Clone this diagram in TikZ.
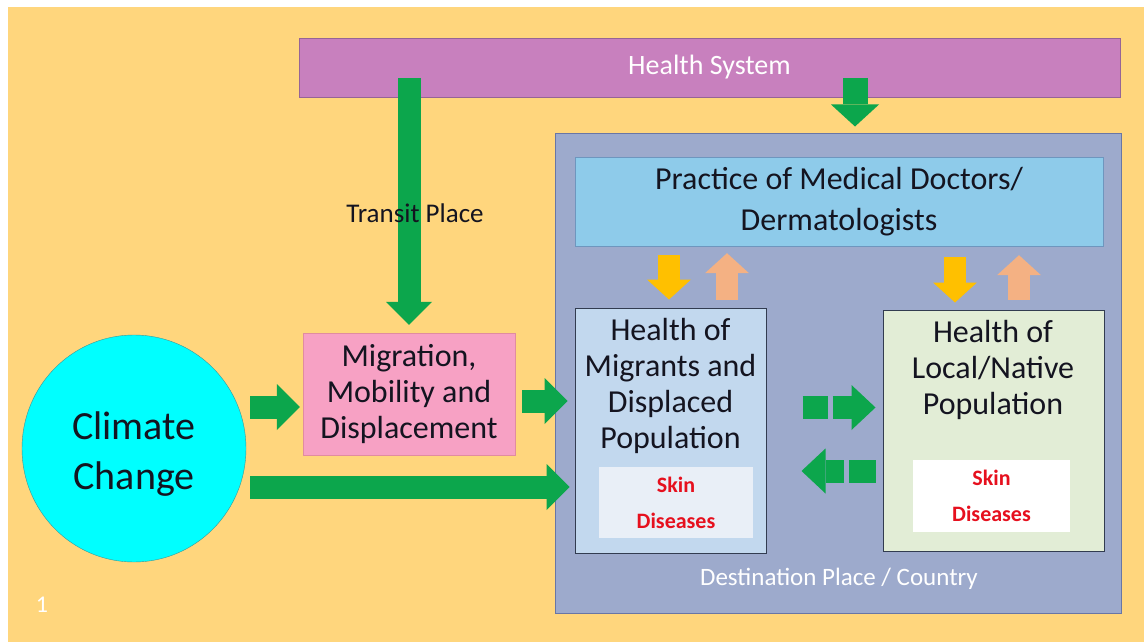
\documentclass[tikz,border=0pt]{standalone}
\usepackage{fontspec}
\setmainfont{Carlito}
\usetikzlibrary{arrows.meta,shapes.geometric}
\definecolor{bgyellow}{RGB}{255,214,125}
\definecolor{hsysfill}{RGB}{200,128,190}
\definecolor{hsysline}{RGB}{150,100,150}
\definecolor{destfill}{RGB}{157,170,204}
\definecolor{destline}{RGB}{105,118,165}
\definecolor{practfill}{RGB}{142,203,234}
\definecolor{practline}{RGB}{110,150,190}
\definecolor{migfill}{RGB}{194,216,238}
\definecolor{locfill}{RGB}{226,237,214}
\definecolor{boxline}{RGB}{50,60,80}
\definecolor{skinpale}{RGB}{233,239,247}
\definecolor{pinkfill}{RGB}{247,161,196}
\definecolor{pinkline}{RGB}{225,140,160}
\definecolor{cyanfill}{RGB}{0,255,255}
\definecolor{cyanline}{RGB}{60,150,150}
\definecolor{arrowgreen}{RGB}{12,166,76}
\definecolor{arrowyellow}{RGB}{255,192,0}
\definecolor{arrowsalmon}{RGB}{244,177,131}
\definecolor{skinred}{RGB}{230,16,30}
\definecolor{ink}{RGB}{20,20,32}
\newcommand{\fs}[2]{\fontsize{#1}{#2}\selectfont}
\begin{document}
\begin{tikzpicture}
  [x=1pt,y=-1pt,
   box/.style={draw,rectangle,inner sep=0pt},
   bodytext/.style={align=center,text=ink,font=\fs{32}{36}},
   skinbox/.style={rectangle,inner sep=0pt,align=center,text=skinred,font=\bfseries\fs{22}{36}},
   greenarrow/.style={draw=arrowgreen,line width=23pt,-{Triangle[length=23pt,width=46pt,line width=0pt]}},
   downarrow/.style={draw=arrowyellow,line width=22pt,-{Triangle[length=20pt,width=44pt,line width=0pt]}},
   uparrow/.style={draw=arrowsalmon,line width=22pt,-{Triangle[length=20pt,width=44pt,line width=0pt]}},
   swaparrow/.style={greenarrow,line width=23pt,-{Triangle[length=24pt,width=45pt,line width=0pt]}}]
  \useasboundingbox (0,0) rectangle (1144,642);
  \fill[white] (0,0) rectangle (1144,642);
  \fill[bgyellow] (8,7) rectangle (1144,642);
  \node[box,draw=hsysline,fill=hsysfill,minimum width=821pt,minimum height=59pt,text=white,font=\fs{28}{34}] (health) at (709.5,67.5) {Health System};
  \node[box,draw=destline,line width=1pt,fill=destfill,minimum width=566pt,minimum height=480pt] (dest) at (838,373) {};
  \node[text=white,font=\fs{25}{30}] (destlabel) at (839,579) {Destination Place / Country};
  \node[box,draw=practline,fill=practfill,minimum width=528pt,minimum height=89pt,bodytext,font=\fs{32}{41}] (practice) at (839,201.5) {Practice of Medical Doctors/\\Dermatologists};
  \node[box,draw=boxline,line width=1pt,fill=migfill,minimum width=191pt,minimum height=245pt] (migrants) at (670.5,430.5) {};
  \node[bodytext] (migtext) at (670.5,386) {Health of\\Migrants and\\Displaced\\Population};
  \node[skinbox,fill=skinpale,minimum width=154pt,minimum height=71pt] (migskin) at (676,502.5) {Skin\\Diseases};
  \node[box,draw=boxline,line width=1pt,fill=locfill,minimum width=221pt,minimum height=241pt] (local) at (993.5,430.5) {};
  \node[bodytext] (loctext) at (993,370) {Health of\\Local/Native\\Population};
  \node[skinbox,fill=white,minimum width=157pt,minimum height=72pt] (locskin) at (991.5,496) {Skin\\Diseases};
  \node[ellipse,draw=cyanline,fill=cyanfill,inner sep=0pt,minimum width=224pt,minimum height=227pt] (climate) at (134,448.5) {};
  \node[align=center,text=ink,font=\fs{40}{50}] (climatetext) at (134,454) {Climate\\Change};
  \node[box,draw=pinkline,fill=pinkfill,minimum width=212pt,minimum height=122pt,bodytext] (migration) at (409,394) {Migration,\\Mobility and\\Displacement};
  \node[text=white,font=\fs{24}{28}] (pagenum) at (42,605) {1};
  \coordinate (transitin) at (409,78);
  \coordinate (hsout) at (855,78);
  \coordinate (mdown) at (669,0);
  \coordinate (mup) at (727,0);
  \coordinate (ldown) at (955,0);
  \coordinate (lup) at (1019,0);
  \draw[greenarrow,shorten >=8pt] (transitin) -- (migration.north);
  \node[text=ink,font=\fs{27}{30}] (transit) at (415,213) {Transit Place};
  \draw[greenarrow,line width=25pt,-{Triangle[length=22pt,width=48pt,line width=0pt]},shorten >=6pt] (hsout) -- (hsout |- dest.north);
  \draw[greenarrow,shorten <=4pt,shorten >=3pt] ([yshift=41.5pt]climate.east) -- ([yshift=-13pt]migration.west);
  \draw[greenarrow,shorten <=7pt,shorten >=7pt] ([yshift=-7pt]migration.east) -- ([yshift=29.5pt]migrants.west);
  \draw[greenarrow,shorten <=4pt,shorten >=5pt] ([yshift=-38.5pt]climate.east) -- ([yshift=-56.5pt]migrants.west);
  \draw[downarrow,shorten <=9pt,shorten >=8pt] (mdown |- practice.south) -- (mdown |- migrants.north);
  \draw[uparrow,shorten <=8pt,shorten >=7pt] (mup |- migrants.north) -- (mup |- practice.south);
  \draw[downarrow,shorten <=11pt,shorten >=7pt] (ldown |- practice.south) -- (ldown |- local.north);
  \draw[uparrow,shorten <=10pt,shorten >=9pt] (lup |- local.north) -- (lup |- practice.south);
  \draw[swaparrow,dash pattern=on 25pt off 5pt on 40pt,shorten <=36pt,shorten >=7pt] ([yshift=23pt]migrants.east) -- ([yshift=23pt]local.west);
  \draw[swaparrow,dash pattern=on 27pt off 5pt on 40pt,shorten <=7pt,shorten >=35pt] ([yshift=-40.5pt]local.west) -- ([yshift=-40.5pt]migrants.east);
\end{tikzpicture}
\end{document}
